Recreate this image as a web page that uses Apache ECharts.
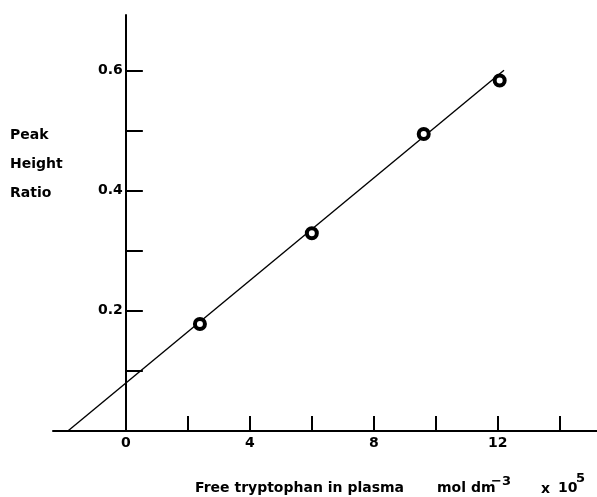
<!DOCTYPE html>
<html><head><meta charset="utf-8">
<script src="https://cdn.jsdelivr.net/npm/echarts@6/dist/echarts.min.js"></script>
<style>html,body{margin:0;padding:0;background:#fff}#c{width:597px;height:497px}</style>
</head><body><div id="c"></div>
<script>
// data
const pointX = [2.39, 6.0, 9.61, 12.06];
const pointY = [0.178, 0.329, 0.494, 0.583];
const fitX = [-1.87, 12.2];
const fitY = [0, 0.6];
const xTickValues = [2, 4, 6, 8, 10, 12, 14];
const xLabelValues = [0, 4, 8, 12];
const yTickValues = [0.1, 0.2, 0.3, 0.4, 0.5, 0.6];
const yLabelValues = [0.2, 0.4, 0.6];
const yTitleLines = ['Peak', 'Height', 'Ratio'];
const xTitle = 'Free tryptophan in plasma';
const xMin = -2.35, xMax = 15.2, yMin = 0, yMax = 0.692;

const W = 597, gridLeft = 53, gridRight = 0;
const yAxisOffset = -(W - gridLeft - gridRight) * (0 - xMin) / (xMax - xMin);

const chart = echarts.init(document.getElementById('c'));
const font = '"DejaVu Sans", Verdana, sans-serif';
const graphics = [];
yTitleLines.forEach((t, i) => {
  graphics.push({type:'text', x:10, y:135 + i*29, style:{text:t, font:'bold 14px ' + font, fill:'#000', verticalAlign:'middle'}});
});
function txt(s, x, y, size) {
  graphics.push({type:'text', x:x, y:y, style:{text:s, font:'bold ' + size + 'px ' + font, fill:'#000', verticalAlign:'middle'}});
}
txt(xTitle, 195, 488, 14);
txt('mol dm', 437, 488, 14);
txt('\u22123', 491, 482, 13);
txt('x', 541, 489, 14);
txt('10', 558, 488, 14);
txt('5', 576, 479, 13);

chart.setOption({
  animation:false,
  backgroundColor:'#fff',
  grid:{left:gridLeft, right:gridRight, top:15, bottom:66, containLabel:false},
  xAxis:{type:'value', min:xMin, max:xMax,
    splitLine:{show:false},
    axisLine:{onZero:false, lineStyle:{color:'#000', width:2}},
    axisTick:{inside:true, length:15, customValues:xTickValues, lineStyle:{color:'#000', width:2}},
    axisLabel:{customValues:xLabelValues, margin:5, color:'#000', fontSize:14, fontWeight:'bold', fontFamily:'DejaVu Sans',
      formatter:v=>String(v)}
  },
  yAxis:{type:'value', min:yMin, max:yMax, position:'left', offset:yAxisOffset,
    splitLine:{show:false},
    axisLine:{onZero:false, lineStyle:{color:'#000', width:2}},
    axisTick:{inside:true, length:17, customValues:yTickValues, lineStyle:{color:'#000', width:2}},
    axisLabel:{customValues:yLabelValues, margin:3, color:'#000', fontSize:14, fontWeight:'bold', fontFamily:'DejaVu Sans',
      formatter:v=>v.toFixed(1)}
  },
  graphic:graphics,
  series:[
    {type:'line', data:fitX.map((x,i)=>[x, fitY[i]]), showSymbol:false, symbol:'none',
      lineStyle:{color:'#000', width:1.4}, z:2},
    {type:'scatter', data:pointX.map((x,i)=>[x, pointY[i]]), symbol:'circle', symbolSize:10,
      itemStyle:{color:'#fff', borderColor:'#000', borderWidth:4, opacity:1}, z:3}
  ]
});
</script></body></html>
